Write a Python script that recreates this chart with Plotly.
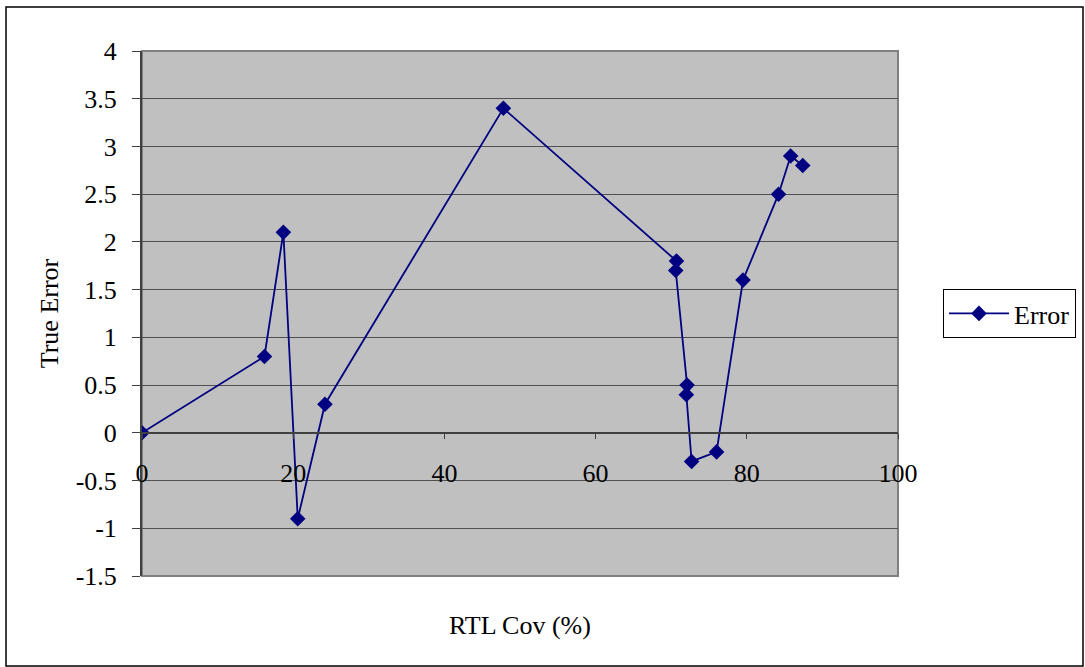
import plotly.graph_objects as go

# RTL coverage (%) and the true error measured at each step
rtl_cov = [0, 16.2, 18.7, 20.6, 24.2, 47.8, 70.7, 70.6, 72.1, 72.0, 72.7, 76.0, 79.5, 84.2, 85.8, 87.4]
true_error = [0, 0.8, 2.1, -0.9, 0.3, 3.4, 1.8, 1.7, 0.5, 0.4, -0.3, -0.2, 1.6, 2.5, 2.9, 2.8]

x_ticks = [0, 20, 40, 60, 80, 100]
y_ticks = [-1.5, -1, -0.5, 0, 0.5, 1, 1.5, 2, 2.5, 3, 3.5, 4]

W, H = 1085, 667
ML, MR, MT, MB = 142, 187, 51, 91
y_min, y_max = -1.5, 4
FONT = "Liberation Serif"
FS = 26
NAVY = "#000080"

fig = go.Figure()
fig.add_trace(go.Scatter(
    x=rtl_cov, y=true_error, mode="lines+markers", name="Error",
    line=dict(color=NAVY, width=1.8),
    marker=dict(symbol="diamond", size=12, color=NAVY),
))

# x axis crosses the value axis at zero
zero_pos = (0 - y_min) / (y_max - y_min)

fig.update_layout(
    width=W, height=H,
    margin=dict(l=ML, r=MR, t=MT, b=MB, autoexpand=False),
    paper_bgcolor="white",
    plot_bgcolor="#C0C0C0",
    font=dict(family=FONT, size=FS, color="black"),
    showlegend=True,
    legend=dict(
        x=1.0 + (943 - (W - MR)) / (W - ML - MR), xanchor="left",
        y=1.0 - (289 - MT) / (H - MT - MB), yanchor="top",
        bgcolor="white", bordercolor="black", borderwidth=1,
        font=dict(family=FONT, size=FS),
        itemwidth=60,
    ),
    xaxis=dict(
        range=[0, 100], tickvals=x_ticks, ticktext=[str(v) for v in x_ticks],
        showgrid=False, zeroline=False,
        anchor="free", position=zero_pos,
        showline=True, linecolor="#404040", linewidth=2,
        ticks="outside", ticklen=5, tickcolor="#404040", tickwidth=1,
        ticklabelstandoff=12,
    ),
    yaxis=dict(
        range=[y_min, y_max], tickvals=y_ticks,
        ticktext=[("%g" % v) for v in y_ticks],
        showgrid=True, gridcolor="#505050", gridwidth=1,
        zeroline=False,
        showline=True, linecolor="#404040", linewidth=2,
        ticks="outside", ticklen=8, tickcolor="#404040", tickwidth=1,
        ticklabelstandoff=10,
        title=dict(text="True Error", font=dict(family=FONT, size=FS), standoff=10),
    ),
)

pw = W - ML - MR
ph = H - MT - MB

def px_x(p):
    return (p - ML) / pw

def px_y(p):
    return 1 - (p - MT) / ph

# plot area frame (gray)
fig.add_shape(type="rect", xref="paper", yref="paper",
              x0=0, x1=1, y0=0, y1=1,
              line=dict(color="#808080", width=2), layer="below")

# outer chart border
fig.add_shape(type="rect", xref="paper", yref="paper",
              x0=px_x(6), x1=px_x(1083), y0=px_y(666), y1=px_y(7),
              line=dict(color="black", width=1.5))

fig.add_annotation(text="RTL Cov (%)", xref="paper", yref="paper",
                   x=0.5, y=px_y(625), xanchor="center", yanchor="middle",
                   showarrow=False, font=dict(family=FONT, size=FS))

fig.write_html("out.html")
